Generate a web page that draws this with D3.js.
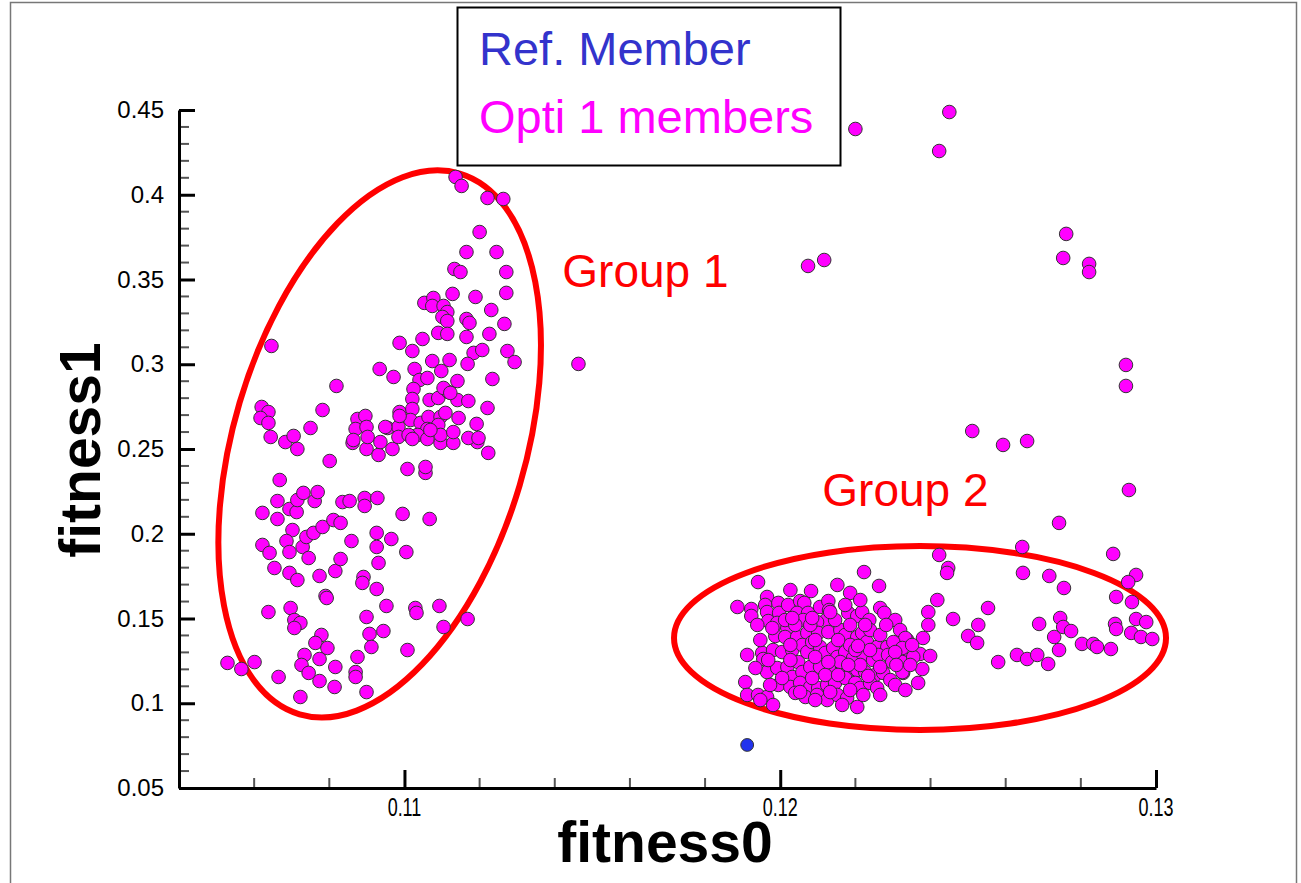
<!DOCTYPE html>
<html>
<head>
  <meta charset="utf-8">
  <title>fitness0 vs fitness1</title>
  <script src="https://d3js.org/d3.v7.min.js"></script>
  <style>
    body { margin: 0; background: #fff; }
    svg { display: block; font-family: "Liberation Sans", Arial, sans-serif; }
  </style>
</head>
<body>
  <svg id="chart"></svg>

  <script>
    // ---- data (fitness0, fitness1) ----
    var refMember = [[0.11912, 0.0754]];

    var group1 = [
      [0.10529,0.1238],[0.10566,0.1202],[0.10601,0.1243],[0.10646,0.3108],[0.10620,0.2748],[0.10638,0.2718],
      [0.10617,0.2683],[0.10638,0.2654],[0.10644,0.2571],[0.10683,0.2541],[0.10705,0.2577],[0.10715,0.2500],
      [0.10750,0.2624],[0.10782,0.2730],[0.10819,0.2872],[0.10668,0.2317],[0.10662,0.2193],[0.10622,0.2123],
      [0.10662,0.2087],[0.10694,0.2146],[0.10713,0.2128],[0.10715,0.2199],[0.10731,0.2241],[0.10761,0.2193],
      [0.10769,0.2246],[0.10801,0.2429],[0.10835,0.2187],[0.10854,0.2193],[0.10894,0.2211],[0.10894,0.2164],
      [0.10928,0.2211],[0.10995,0.2117],[0.11067,0.2087],[0.10702,0.2022],[0.10686,0.1957],[0.10622,0.1934],
      [0.10641,0.1887],[0.10694,0.1892],[0.10729,0.1922],[0.10739,0.1981],[0.10758,0.2005],[0.10782,0.2040],
      [0.10811,0.2081],[0.10830,0.2064],[0.10859,0.1957],[0.10926,0.2005],[0.10965,0.1969],[0.10926,0.1922],
      [0.11005,0.1892],[0.10745,0.1857],[0.10654,0.1798],[0.10694,0.1769],[0.10715,0.1727],[0.10774,0.1751],
      [0.10816,0.1780],[0.10830,0.1851],[0.10931,0.1828],[0.10891,0.1745],[0.10888,0.1710],[0.10926,0.1674],
      [0.10790,0.1633],[0.10793,0.1621],[0.10638,0.1538],[0.10697,0.1562],[0.10707,0.1491],[0.10723,0.1474],
      [0.10707,0.1444],[0.10899,0.1509],[0.10952,0.1574],[0.11029,0.1562],[0.11032,0.1533],[0.11093,0.1574],
      [0.11104,0.1450],[0.11168,0.1497],[0.10907,0.1409],[0.10944,0.1426],[0.10912,0.1332],[0.11008,0.1314],
      [0.10779,0.1403],[0.10763,0.1356],[0.10795,0.1326],[0.10734,0.1285],[0.10774,0.1261],[0.10726,0.1226],
      [0.10745,0.1179],[0.10774,0.1131],[0.10816,0.1214],[0.10875,0.1273],[0.10870,0.1184],[0.10870,0.1155],
      [0.10814,0.1096],[0.10665,0.1155],[0.10723,0.1037],[0.10899,0.1066],[0.10862,0.2536],[0.10899,0.2500],
      [0.10931,0.2465],[0.10968,0.2500],[0.11008,0.2382],[0.11056,0.2359],[0.11056,0.2394],[0.11223,0.2477],
      [0.11096,0.2536],[0.11130,0.2536],[0.11194,0.2541],
      [0.11136,0.4105],[0.11152,0.4052],[0.11221,0.3981],[0.11263,0.3975],[0.11200,0.3780],[0.11165,0.3662],
      [0.11245,0.3662],[0.11133,0.3562],[0.11149,0.3544],[0.11271,0.3544],[0.11271,0.3421],[0.11128,0.3415],
      [0.11189,0.3397],[0.11053,0.3362],[0.11077,0.3391],[0.11074,0.3344],[0.11104,0.3344],[0.11114,0.3308],
      [0.11101,0.3279],[0.11114,0.3255],[0.11165,0.3267],[0.11173,0.3244],[0.11231,0.3320],[0.11266,0.3238],
      [0.11090,0.3185],[0.11114,0.3179],[0.11165,0.3161],[0.11226,0.3179],[0.10987,0.3126],[0.11021,0.3078],
      [0.11048,0.3149],[0.11184,0.3067],[0.11207,0.3084],[0.11274,0.3078],[0.11293,0.3013],[0.11074,0.3019],
      [0.11120,0.3025],[0.11027,0.2972],[0.11098,0.2960],[0.11168,0.3002],[0.10934,0.2972],[0.10971,0.2925],
      [0.11040,0.2907],[0.11061,0.2919],[0.11141,0.2901],[0.11234,0.2913],[0.11024,0.2854],[0.11021,0.2795],
      [0.11067,0.2789],[0.11090,0.2801],[0.11117,0.2836],[0.11141,0.2789],[0.11170,0.2783],[0.11221,0.2742],
      [0.10987,0.2718],[0.11021,0.2736],[0.11104,0.2860],[0.11122,0.2831],[0.10875,0.2677],[0.10896,0.2695],
      [0.10870,0.2618],[0.10899,0.2630],[0.10864,0.2553],[0.10902,0.2571],[0.10955,0.2624],[0.10984,0.2630],
      [0.10984,0.2571],[0.11016,0.2671],[0.11043,0.2654],[0.11064,0.2689],[0.11096,0.2689],[0.11090,0.2642],
      [0.11061,0.2618],[0.11035,0.2583],[0.11096,0.2583],[0.11130,0.2600],[0.11144,0.2683],[0.11192,0.2648],
      [0.11170,0.2565],[0.11197,0.2565],[0.11109,0.2713],[0.10936,0.2541],[0.11011,0.2583],[0.11021,0.2559],
      [0.11061,0.2559],[0.10987,0.2695],[0.10949,0.2630],[0.11069,0.2612]
    ];

    var scattered = [
      [0.12200,0.4388],[0.12450,0.4488],[0.12423,0.4258],[0.12761,0.3769],[0.12753,0.3627],[0.12822,0.3592],
      [0.12822,0.3544],[0.12074,0.3580],[0.12117,0.3615],[0.11463,0.3002],[0.12920,0.2996],[0.12920,0.2872],
      [0.12928,0.2258],[0.12511,0.2606],[0.12593,0.2524],[0.12657,0.2547],[0.12742,0.2064]
    ];

    var group2 = [
      [0.12644,0.1922],[0.12423,0.1875],[0.12447,0.1798],[0.12444,0.1769],[0.12646,0.1769],[0.12716,0.1751],
      [0.12755,0.1680],[0.12886,0.1881],[0.12947,0.1757],[0.12926,0.1715],[0.12894,0.1627],[0.12936,0.1597],
      [0.12947,0.1497],[0.12974,0.1479],[0.12891,0.1468],[0.12894,0.1438],[0.12934,0.1415],[0.12960,0.1391],
      [0.12990,0.1379],[0.12880,0.1320],[0.12803,0.1350],[0.12833,0.1350],[0.12843,0.1332],[0.12745,0.1503],
      [0.12753,0.1450],[0.12774,0.1426],[0.12729,0.1391],[0.12742,0.1314],[0.12689,0.1468],[0.12713,0.1232],
      [0.12630,0.1285],[0.12657,0.1261],[0.12684,0.1285],[0.12580,0.1243],[0.12553,0.1562],[0.12527,0.1462],
      [0.12500,0.1397],[0.12524,0.1356],[0.12460,0.1497],[0.12418,0.1609],[0.12394,0.1538],[0.12394,0.1462],
      [0.12380,0.1385],[0.12372,0.1291],[0.12399,0.1279],[0.12378,0.1202],[0.12367,0.1120],[0.12338,0.1373],
      [0.12327,0.1273],[0.12327,0.1179],
      [0.11941,0.1715],[0.12152,0.1698],[0.12186,0.1651],[0.12263,0.1692],[0.12223,0.1774],[0.12082,0.1662],
      [0.11886,0.1568],[0.11923,0.1556],[0.11923,0.1515],[0.11965,0.1627],[0.11960,0.1580],[0.11965,0.1538],
      [0.11995,0.1592],[0.11997,0.1533],[0.12021,0.1580],[0.12053,0.1603],[0.12064,0.1592],[0.12045,0.1533],
      [0.12074,0.1533],[0.12061,0.1491],[0.12106,0.1568],[0.12128,0.1603],[0.12130,0.1550],[0.12122,0.1491],
      [0.12098,0.1479],[0.12181,0.1533],[0.12205,0.1515],[0.12218,0.1538],[0.12237,0.1491],[0.12266,0.1562],
      [0.12277,0.1533],[0.12306,0.1491],[0.12319,0.1432],[0.12333,0.1385],[0.11968,0.1485],[0.11992,0.1474],
      [0.12019,0.1444],[0.11987,0.1397],[0.12013,0.1391],[0.12045,0.1391],[0.12072,0.1415],[0.12101,0.1415],
      [0.12128,0.1420],[0.12160,0.1432],[0.12173,0.1403],[0.12205,0.1391],[0.12218,0.1415],[0.12231,0.1361],
      [0.12258,0.1332],[0.12285,0.1332],[0.12301,0.1361],[0.12325,0.1326],[0.11912,0.1285],[0.11952,0.1297],
      [0.11955,0.1261],[0.11981,0.1314],[0.12005,0.1302],[0.12032,0.1314],[0.12059,0.1344],[0.12072,0.1302],
      [0.12085,0.1361],[0.12106,0.1332],[0.12120,0.1297],[0.12141,0.1326],[0.12152,0.1273],[0.12173,0.1302],
      [0.12194,0.1267],[0.12221,0.1285],[0.12247,0.1255],[0.12261,0.1285],[0.12287,0.1285],[0.12298,0.1243],
      [0.12325,0.1243],[0.12354,0.1273],[0.11965,0.1184],[0.11992,0.1208],[0.12019,0.1214],[0.12048,0.1243],
      [0.12032,0.1155],[0.12059,0.1184],[0.12080,0.1214],[0.12106,0.1214],[0.12138,0.1208],[0.12165,0.1214],
      [0.12178,0.1184],[0.12205,0.1196],[0.12226,0.1184],[0.12253,0.1167],[0.12274,0.1179],[0.12293,0.1137],
      [0.12325,0.1184],[0.11907,0.1125],[0.11995,0.1108],[0.12027,0.1096],[0.12053,0.1120],[0.12080,0.1096],
      [0.12101,0.1090],[0.12125,0.1108],[0.12146,0.1120],[0.12173,0.1149],[0.12200,0.1120],[0.12213,0.1090],
      [0.12239,0.1120],[0.12258,0.1090],[0.11912,0.1049],[0.11941,0.1049],[0.11965,0.1037],[0.11981,0.0990],
      [0.12040,0.1061],[0.12067,0.1037],[0.12098,0.1049],[0.12125,0.1019],[0.12152,0.1049],[0.12178,0.1031],
      [0.12205,0.0978],[0.12221,0.1049],
      [0.12013,0.1491],[0.12040,0.1462],[0.12080,0.1462],[0.12146,0.1491],[0.12186,0.1462],[0.12239,0.1432],
      [0.12266,0.1403],[0.12027,0.1255],[0.12093,0.1273],[0.12160,0.1243],[0.12213,0.1226],[0.12266,0.1214],
      [0.12053,0.1066],[0.12133,0.1066],[0.12186,0.1078],[0.12027,0.1344],[0.12093,0.1373],[0.12186,0.1344],
      [0.12239,0.1314],[0.12306,0.1302],[0.11947,0.1373],[0.11934,0.1208],[0.12266,0.1049],[0.12306,0.1108],
      [0.12346,0.1226],[0.12351,0.1344],[0.12120,0.1167],[0.12200,0.1314],[0.11973,0.1108],
      [0.11979,0.1444],[0.12032,0.1503],[0.12085,0.1503],[0.12154,0.1373],[0.12207,0.1338],[0.12128,0.1243],
      [0.12181,0.1226],[0.12234,0.1161],[0.12005,0.1149],[0.12085,0.1149],[0.12154,0.1167],[0.11939,0.1462],
      [0.11968,0.1255],[0.12282,0.1462],[0.12309,0.1226],[0.12226,0.1462],[0.12133,0.1538],[0.12173,0.1580],
      [0.12213,0.1609],[0.12027,0.1668],[0.12093,0.1019],[0.12165,0.0990],[0.11947,0.1019],[0.12333,0.1078]
    ];

    var xTicks = [0.11, 0.12, 0.13];
    var xMinorTicks = [0.106, 0.108, 0.112, 0.114, 0.116, 0.118, 0.122, 0.124, 0.126, 0.128];
    var yTicks = [0.05, 0.1, 0.15, 0.2, 0.25, 0.3, 0.35, 0.4, 0.45];
    var yMinorTicks = d3.range(6, 45).map(d => d / 100).filter(d => Math.round(d * 100) % 5 !== 0);

    var legendItems = [
      { label: "Ref. Member", color: "#3333cc" },
      { label: "Opti 1 members", color: "#ff00ff" }
    ];

    // group annotations: centre and label anchor in data units
    var groups = [
      { name: "Group 1", cx: 0.10934, cy: 0.2530, rx: 146, ry: 282, angle: 16.5, labelX: 0.11420, labelY: 0.3456 },
      { name: "Group 2", cx: 0.12372, cy: 0.1385, rx: 246, ry: 92, angle: 0, labelX: 0.12112, labelY: 0.2164 }
    ];

    var fmt = d => String(+d.toFixed(2));

    // ---- layout ----
    var width = 1301, height = 883;

    var svg = d3.select("#chart")
      .attr("width", width)
      .attr("height", height);

    svg.append("rect")
      .attr("width", width)
      .attr("height", height)
      .attr("fill", "#fff");

    // page frame
    svg.append("rect")
      .attr("x", 10.5)
      .attr("y", 2.5)
      .attr("width", 1286)
      .attr("height", 900)
      .attr("fill", "none")
      .attr("stroke", "#777")
      .attr("stroke-width", 1.5);

    var x = d3.scaleLinear().domain([0.104, 0.13]).range([179, 1156]);
    var y = d3.scaleLinear().domain([0.05, 0.45]).range([788, 110]);

    // minor ticks
    svg.append("g").selectAll("line")
      .data(yMinorTicks)
      .join("line")
      .attr("x1", 179).attr("x2", 189)
      .attr("y1", d => y(d)).attr("y2", d => y(d))
      .attr("stroke", "#555").attr("stroke-width", 2);

    svg.append("g").selectAll("line")
      .data(xMinorTicks)
      .join("line")
      .attr("x1", d => x(d)).attr("x2", d => x(d))
      .attr("y1", 788).attr("y2", 778)
      .attr("stroke", "#555").attr("stroke-width", 2);

    // y axis
    var yAxis = svg.append("g")
      .attr("transform", "translate(179,0)")
      .call(d3.axisLeft(y).tickValues(yTicks).tickSize(-16).tickSizeOuter(0).tickPadding(15)
        .tickFormat(fmt));
    yAxis.select(".domain").attr("stroke-width", 3);
    yAxis.selectAll(".tick line").attr("stroke-width", 3);
    yAxis.selectAll(".tick text")
      .attr("fill", "#000")
      .attr("font-size", 24);
    yAxis.attr("font-size", 24).attr("font-family", null);

    // x axis, labels drawn separately so they can be narrowed
    var xAxis = svg.append("g")
      .attr("transform", "translate(0,788)")
      .call(d3.axisBottom(x).tickValues(xTicks).tickSize(-18).tickSizeOuter(0));
    xAxis.select(".domain").attr("stroke-width", 3);
    xAxis.selectAll(".tick line").attr("stroke-width", 3);
    xAxis.selectAll(".tick text").remove();

    svg.append("g").selectAll("text")
      .data(xTicks)
      .join("text")
      .attr("transform", d => "translate(" + x(d) + ",816) scale(0.72,1)")
      .attr("text-anchor", "middle")
      .attr("font-size", 25)
      .attr("fill", "#000")
      .text(fmt);

    // axis titles
    svg.append("text")
      .attr("x", 665)
      .attr("y", 862)
      .attr("text-anchor", "middle")
      .attr("font-size", 57)
      .attr("font-weight", "bold")
      .text("fitness0");

    svg.append("text")
      .attr("transform", "translate(100,450) rotate(-90)")
      .attr("text-anchor", "middle")
      .attr("font-size", 57)
      .attr("font-weight", "bold")
      .text("fitness1");

    // group ellipses and labels
    svg.append("g").selectAll("ellipse")
      .data(groups)
      .join("ellipse")
      .attr("transform", d => "translate(" + x(d.cx) + "," + y(d.cy) + ") rotate(" + d.angle + ")")
      .attr("rx", d => d.rx)
      .attr("ry", d => d.ry)
      .attr("fill", "none")
      .attr("stroke", "#ff0000")
      .attr("stroke-width", 6);

    svg.append("g").selectAll("text")
      .data(groups)
      .join("text")
      .attr("x", d => x(d.labelX))
      .attr("y", d => y(d.labelY))
      .attr("fill", "#ff0000")
      .attr("font-size", 46)
      .text(d => d.name);

    // points
    var members = group1.concat(group2, scattered);

    svg.append("g").selectAll("circle")
      .data(members)
      .join("circle")
      .attr("cx", d => x(d[0]))
      .attr("cy", d => y(d[1]))
      .attr("r", 6.8)
      .attr("fill", "#ff00ff")
      .attr("stroke", "#333")
      .attr("stroke-width", 1);

    svg.append("g").selectAll("circle")
      .data(refMember)
      .join("circle")
      .attr("cx", d => x(d[0]))
      .attr("cy", d => y(d[1]))
      .attr("r", 6.4)
      .attr("fill", "#2233ee")
      .attr("stroke", "#333")
      .attr("stroke-width", 1);

    // legend
    var legend = svg.append("g");
    legend.append("rect")
      .attr("x", 457.5)
      .attr("y", 7.5)
      .attr("width", 383)
      .attr("height", 158)
      .attr("fill", "#fff")
      .attr("stroke", "#000")
      .attr("stroke-width", 2);

    legend.selectAll("text")
      .data(legendItems)
      .join("text")
      .attr("x", 479)
      .attr("y", (d, i) => 65 + i * 68)
      .attr("fill", d => d.color)
      .attr("font-size", 47)
      .text(d => d.label);
  </script>
</body>
</html>
